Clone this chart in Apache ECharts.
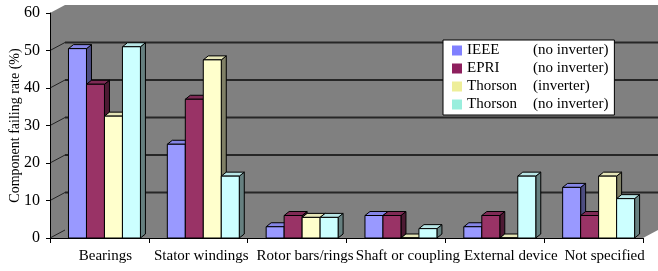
<!DOCTYPE html>
<html>
<head>
<meta charset="utf-8">
<script src="https://cdn.jsdelivr.net/npm/echarts@6/dist/echarts.min.js"></script>
<style>
  html, body { margin: 0; padding: 0; background: #fff; }
  #chart { width: 658px; height: 271px; }
</style>
</head>
<body>
<div id="chart"></div>
<script>
const categories = ['Bearings', 'Stator windings', 'Rotor bars/rings', 'Shaft or coupling', 'External device', 'Not specified'];
const ieee = [50.5, 25, 3, 6, 3, 13.5];
const epri = [41, 37, 6, 6, 6, 6];
const thorsonInv = [32.5, 47.5, 5.5, 0, 0, 16.5];
const thorsonNoInv = [51, 16.5, 5.5, 2.5, 16.5, 10.5];
const yTicks = [0, 10, 20, 30, 40, 50, 60];

const seriesNames = ['IEEE|(no inverter)', 'EPRI|(no inverter)', 'Thorson|(inverter)', 'Thorson|(no inverter) '];
const seriesData = [ieee, epri, thorsonInv, thorsonNoInv];
const faceColors = [
    { front: '#9999ff', top: '#8585e6', side: '#4d4d80' },
    { front: '#993366', top: '#7f2a55', side: '#4d1a33' },
    { front: '#ffffcc', top: '#e6e6b8', side: '#808066' },
    { front: '#ccffff', top: '#b8e6e6', side: '#668080' }
];
const legendColors = ['#8080ff', '#8e1f5e', '#eeee99', '#99eedd'];
// how far each category label sits right of its band centre (px)
const labelShift = [6, 3, 8, 12, 16, 11];

const DX = 15, DY = -8;      // depth of the back wall
const BDX = 5, BDY = -4;     // depth of each bar

const chart = echarts.init(document.getElementById('chart'));

function wallItem(params, api) {
    const cs = params.coordSys;
    const v = api.value(0);
    const y = api.coord([0, v])[1];
    const xl = cs.x, xr = cs.x + cs.width;
    const children = [];
    if (params.dataIndex === 0) {
        const yb = cs.y + cs.height, yt = cs.y;
        children.push({
            type: 'polygon',
            shape: { points: [[xl, yb], [xl, yt], [xl + DX, yt + DY], [xr + DX, yt + DY], [xr + DX, yb + DY], [xr, yb]] },
            style: { fill: '#808080', stroke: null }
        });
    }
    if (v < 60) {
        children.push({
            type: 'line',
            shape: { x1: xl, y1: y, x2: xl + DX, y2: y + DY },
            style: { stroke: '#222', lineWidth: 1 }
        });
    }
    if (v > 0 && v < 60) {
        children.push({
            type: 'line',
            shape: { x1: xl + DX, y1: y + DY, x2: xr + DX, y2: y + DY },
            style: { stroke: '#262626', lineWidth: 2 }
        });
    }
    return { type: 'group', children: children };
}

function barItem(si) {
    const c = faceColors[si];
    return function (params, api) {
        const ci = api.value(0), v = api.value(1);
        const base = api.coord([ci, 0]);
        const top = api.coord([ci, v]);
        const band = api.size([1, 0])[0];
        const w = band * 0.182;
        const x0 = base[0] - band / 2 + band * 0.187 + si * w;
        const x1 = x0 + w;
        const yb = base[1], yt = top[1];
        const st = { stroke: '#000', lineWidth: 1, lineJoin: 'round' };
        return {
            type: 'group',
            children: [
                { type: 'polygon', shape: { points: [[x1, yt], [x1 + BDX, yt + BDY], [x1 + BDX, yb + BDY], [x1, yb]] }, style: Object.assign({ fill: c.side }, st) },
                { type: 'polygon', shape: { points: [[x0, yt], [x1, yt], [x1 + BDX, yt + BDY], [x0 + BDX, yt + BDY]] }, style: Object.assign({ fill: c.top }, st) },
                { type: 'rect', shape: { x: x0, y: yt, width: w, height: yb - yt }, style: Object.assign({ fill: c.front }, st) }
            ]
        };
    };
}

const series = [{
    type: 'custom',
    name: 'wall',
    z: 1,
    silent: true,
    renderItem: wallItem,
    data: yTicks.map(v => [v]),
    encode: { y: 0 }
}];
seriesData.forEach((vals, si) => {
    series.push({
        type: 'custom',
        name: seriesNames[si],
        z: 2 + si,
        color: faceColors[si].front,
        renderItem: barItem(si),
        data: vals.map((v, i) => [i, v]),
        encode: { x: 0, y: 1 }
    });
});

const font = 'Liberation Serif';

const labelRich = {};
labelShift.forEach((s, i) => {
    labelRich['s' + i] = { fontFamily: font, fontSize: 15, color: '#000', padding: [0, 0, 0, 2 * s] };
});

const option = {
    animation: false,
    textStyle: { fontFamily: font },
    grid: { left: 50, right: 15, top: 13, bottom: 33, containLabel: false, outerBoundsMode: 'none' },
    legend: {
        orient: 'vertical',
        left: 443,
        top: 40,
        backgroundColor: '#fff',
        borderColor: '#000',
        borderWidth: 1,
        borderRadius: 0,
        padding: [3, 6, 3, 9],
        itemGap: 3,
        itemWidth: 10,
        itemHeight: 10,
        icon: 'rect',
        data: seriesNames.map((n, i) => ({ name: n, itemStyle: { color: legendColors[i], borderWidth: 0 } })),
        formatter: function (name) {
            const p = name.split('|');
            return '{a|' + p[0] + '}{b|' + p[1].trim() + '}';
        },
        textStyle: {
            fontFamily: font,
            fontSize: 15,
            color: '#000',
            rich: {
                a: { width: 66, fontFamily: font, fontSize: 15, color: '#000' },
                b: { fontFamily: font, fontSize: 15, color: '#000' }
            }
        }
    },
    xAxis: {
        type: 'category',
        data: categories,
        z: 10,
        axisLine: { lineStyle: { color: '#000', width: 1 } },
        axisTick: { show: true, length: 5, lineStyle: { color: '#000' } },
        axisLabel: {
            interval: 0,
            hideOverlap: false,
            color: '#000',
            fontFamily: font,
            fontSize: 15,
            margin: 11,
            formatter: (value, index) => '{s' + index + '|' + value + '}',
            rich: labelRich
        },
        splitLine: { show: false }
    },
    yAxis: {
        type: 'value',
        min: 0,
        max: 60,
        interval: 10,
        z: 10,
        name: 'Component failing rate (%)',
        nameLocation: 'middle',
        nameGap: 28,
        nameMoveOverlap: false,
        nameTextStyle: { color: '#000', fontFamily: font, fontSize: 14 },
        axisLine: { show: true, lineStyle: { color: '#000', width: 1 } },
        axisTick: { show: true, length: 4, lineStyle: { color: '#000' } },
        axisLabel: { color: '#000', fontFamily: font, fontSize: 16, margin: 10 },
        splitLine: { show: false }
    },
    series: series
};

chart.setOption(option);

window.addEventListener('resize', _ => {
    chart.resize();
});
</script>
</body>
</html>
